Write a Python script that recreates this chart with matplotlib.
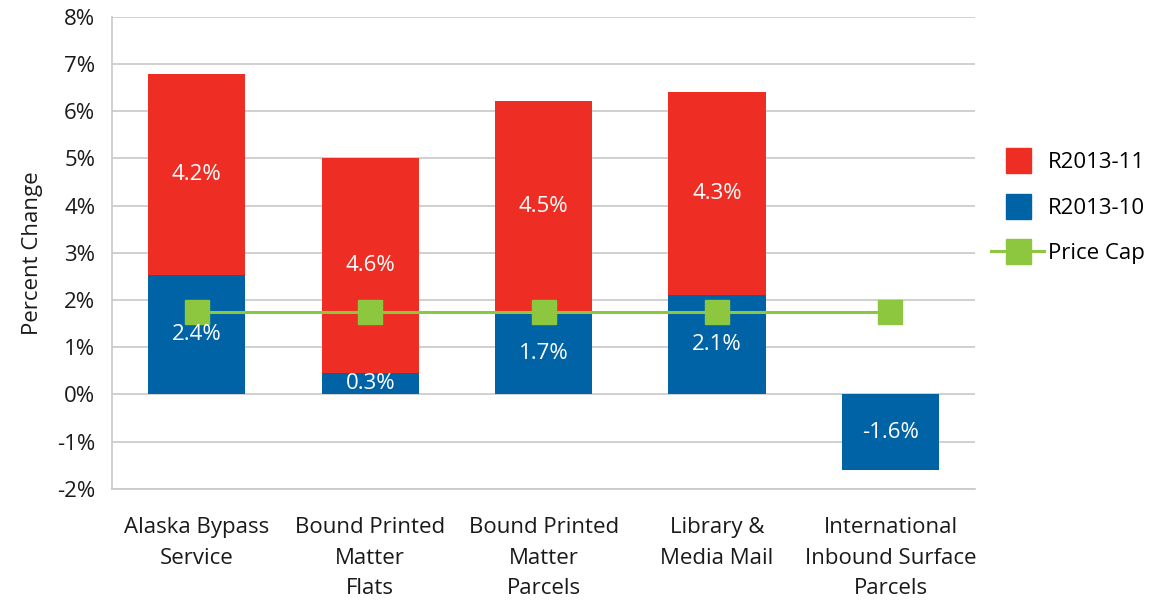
import matplotlib.pyplot as plt
import numpy as np
from matplotlib.lines import Line2D

categories = ['Alaska Bypass\nService', 'Bound Printed\nMatter\nFlats',
              'Bound Printed\nMatter\nParcels', 'Library &\nMedia Mail',
              'International\nInbound Surface\nParcels']
r2013_10 = [2.53, 0.45, 1.75, 2.10, -1.60]
r2013_11 = [4.25, 4.57, 4.46, 4.30, 0.0]
price_cap = [1.74, 1.74, 1.74, 1.74, 1.74]
labels_10 = ['2.4%', '0.3%', '1.7%', '2.1%', '-1.6%']
labels_11 = ['4.2%', '4.6%', '4.5%', '4.3%', '']
yticks = list(range(-2, 9))

red = '#EE2E24'
blue = '#0063A5'
green = '#8DC63F'
grid_c = '#C8C8C8'

plt.rcParams['font.family'] = ['Open Sans', 'DejaVu Sans']

fig = plt.figure(figsize=(11.53, 6.02), dpi=100)
ax = fig.add_axes([0.097, 0.188, 0.749, 0.784])

x = np.arange(len(categories))
w = 0.56
ax.bar(x, r2013_10, w, color=blue, zorder=2)
ax.bar(x, r2013_11, w, bottom=[max(v, 0) for v in r2013_10], color=red, zorder=2)
ax.plot(x, price_cap, color=green, lw=2.2, marker='s', ms=17, zorder=4)

for i in range(len(x)):
    v = r2013_10[i]
    ax.text(x[i], v / 2, labels_10[i], ha='center', va='center',
            color='white', fontsize=16, zorder=5)
    if labels_11[i]:
        ax.text(x[i], v + r2013_11[i] / 2, labels_11[i], ha='center',
                va='center', color='white', fontsize=16, zorder=5)

ax.set_xlim(-0.49, len(x) - 0.51)
ax.set_ylim(-2, 8)
ax.set_yticks(yticks)
ax.set_yticklabels([f'{t}%' for t in yticks])
ax.set_xticks(x)
ax.set_xticklabels(categories, linespacing=1.62)
ax.tick_params(axis='both', length=0, labelsize=16, colors='#1a1a1a')
ax.tick_params(axis='x', pad=20)
ax.tick_params(axis='y', pad=12)
ax.yaxis.grid(True, color=grid_c, lw=1.2, zorder=0)
ax.set_axisbelow(True)
for s in ['top', 'right']:
    ax.spines[s].set_visible(False)
for s in ['left', 'bottom']:
    ax.spines[s].set_color(grid_c)
    ax.spines[s].set_linewidth(1.2)
ax.set_ylabel('Percent Change', fontsize=16, color='#1a1a1a', labelpad=10)

handles = [
    Line2D([], [], ls='none', marker='s', ms=18, color=red),
    Line2D([], [], ls='none', marker='s', ms=18, color=blue),
    Line2D([], [], color=green, lw=2.2, marker='s', ms=18),
]
ax.legend(handles, ['R2013-11', 'R2013-10', 'Price Cap'], loc='center left',
          bbox_to_anchor=(0.995, 0.595), frameon=False, fontsize=16,
          labelspacing=1.1, handlelength=2.4, handletextpad=0.15)

fig.savefig('out.png', dpi=100)
